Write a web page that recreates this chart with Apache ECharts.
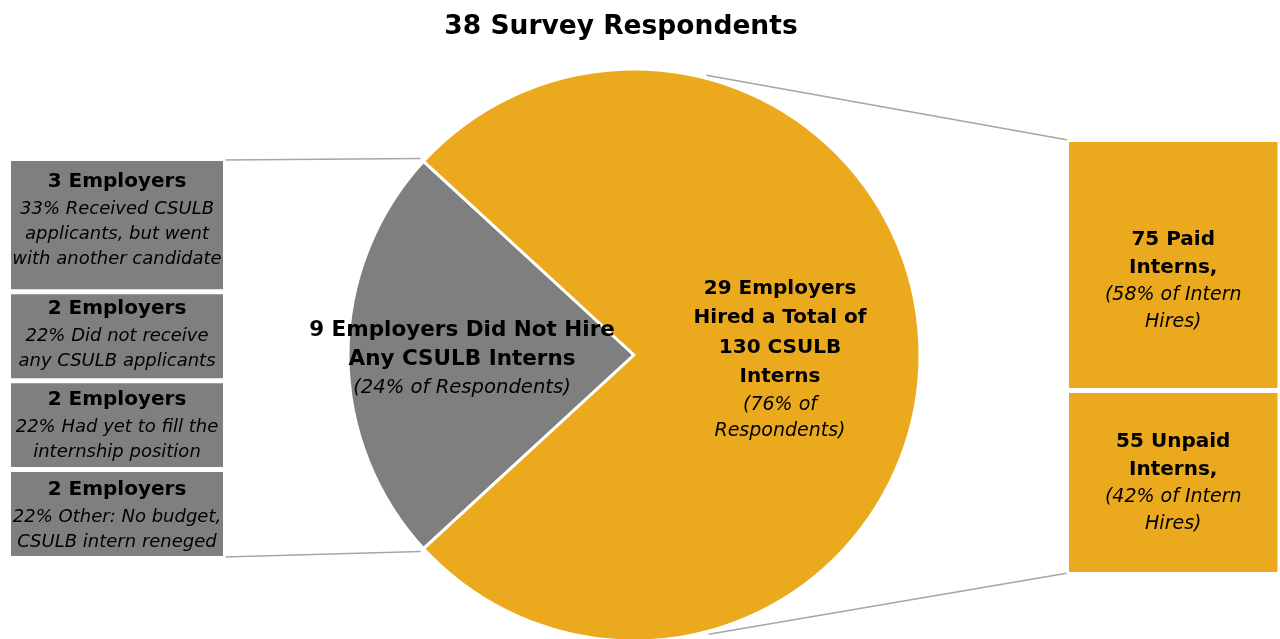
<!DOCTYPE html>
<html><head><meta charset="utf-8">
<script src="https://cdn.jsdelivr.net/npm/echarts@6/dist/echarts.min.js"></script>
<style>html,body{margin:0;padding:0;background:#fff}#c{width:1280px;height:639px}</style>
</head><body><div id="c"></div>
<script>
// ---- data ----
const chartTitle = '38 Survey Respondents';
const pieNames = ['Did Not Hire', 'Hired'];
const pieValues = [9, 29];
const pieTitles = [['9 Employers Did Not Hire', 'Any CSULB Interns'], ['29 Employers', 'Hired a Total of', '130 CSULB', 'Interns']];
const pieNotes = [['(24% of Respondents)'], ['(76% of', 'Respondents)']];

const leftValues = [3, 2, 2, 2];
const leftTitles = ['3 Employers', '2 Employers', '2 Employers', '2 Employers'];
const leftNotes = [
  ['33% Received CSULB', 'applicants, but went', 'with another candidate'],
  ['22% Did not receive', 'any CSULB applicants'],
  ['22% Had yet to fill the', 'internship position'],
  ['22% Other: No budget,', 'CSULB intern reneged']
];

const rightValues = [75, 55];
const rightTitles = [['75 Paid', 'Interns,'], ['55 Unpaid', 'Interns,']];
const rightNotes = [['(58% of Intern', 'Hires)'], ['(42% of Intern', 'Hires)']];

// ---- styles ----
const GOLD = '#EBA91E';
const GRAY = '#7F7F7F';
const FONT = 'DejaVu Sans';
const sum = a => a.reduce((s, v) => s + v, 0);

function richText(titles, notes, suffix) {
  const sfx = suffix || '';
  const t = [].concat(titles).map(s => '{b' + sfx + '|' + s + '}');
  const n = [].concat(notes).map(s => '{i' + sfx + '|' + s + '}');
  return t.concat(n).join('\n');
}

const pieCenter = [634, 355];
const pieRadius = 286;
const grayShare = pieValues[0] / sum(pieValues) * 360;
const startAngle = 180 + grayShare / 2;

const chart = echarts.init(document.getElementById('c'), null, {renderer: 'canvas'});

function barSeries(values, titles, notes, color, gridIdx, rich, offsets) {
  return values.map((v, i) => ({
    type: 'bar',
    name: 's' + gridIdx + '_' + i,
    stack: 'st' + gridIdx,
    xAxisIndex: gridIdx,
    yAxisIndex: gridIdx,
    barWidth: '100%',
    data: [v],
    itemStyle: {color: color, borderColor: '#fff', borderWidth: 2.5},
    label: {
      show: true,
      position: 'inside',
      offset: offsets ? offsets[i] : [0, 0],
      formatter: () => richText(titles[i], notes[i]),
      rich: rich
    },
    silent: true
  }));
}

const leftRich = {
  b: {fontFamily: FONT, fontWeight: 'bold', fontSize: 20, lineHeight: 30, color: '#000'},
  i: {fontFamily: FONT, fontStyle: 'italic', fontSize: 18, lineHeight: 25, color: '#000'}
};
const rightRich = {
  b: {fontFamily: FONT, fontWeight: 'bold', fontSize: 20, lineHeight: 28, color: '#000'},
  i: {fontFamily: FONT, fontStyle: 'italic', fontSize: 19, lineHeight: 27, color: '#000'}
};
const pieRich = {
  b: {fontFamily: FONT, fontWeight: 'bold', fontSize: 20, lineHeight: 29.5, color: '#000'},
  i: {fontFamily: FONT, fontStyle: 'italic', fontSize: 19, lineHeight: 26, color: '#000'},
  bg: {fontFamily: FONT, fontWeight: 'bold', fontSize: 21.5, lineHeight: 29, color: '#000'},
  ig: {fontFamily: FONT, fontStyle: 'italic', fontSize: 19.6, lineHeight: 28, color: '#000'}
};

const option = {
  animation: false,
  backgroundColor: '#fff',
  grid: [
    {left: 8.5, top: 158.5, width: 217, height: 400},
    {left: 1066.5, top: 139.5, width: 220, height: 435}
  ],
  xAxis: [
    {type: 'category', gridIndex: 0, data: ['a'], show: false},
    {type: 'category', gridIndex: 1, data: ['a'], show: false}
  ],
  yAxis: [
    {type: 'value', gridIndex: 0, min: 0, max: sum(leftValues), inverse: true, show: false},
    {type: 'value', gridIndex: 1, min: 0, max: sum(rightValues), inverse: true, show: false}
  ],
  series: [
    {
      type: 'pie',
      center: pieCenter,
      radius: pieRadius,
      startAngle: startAngle,
      clockwise: true,
      silent: true,
      label: {show: true, position: 'inside', rich: pieRich,
        formatter: p => richText(pieTitles[p.dataIndex], pieNotes[p.dataIndex], p.dataIndex === 0 ? 'g' : '')},
      labelLine: {show: false},
      itemStyle: {borderColor: '#fff', borderWidth: 3},
      data: pieValues.map((v, i) => ({
        name: pieNames[i], value: v,
        itemStyle: {color: i === 0 ? GRAY : GOLD},
        label: i === 0 ? {padding: [8, 52, 0, 0]} : {padding: [8, 0, 0, 0]}
      }))
    }
  ].concat(
    barSeries(leftValues, leftTitles, leftNotes, GRAY, 0, leftRich, [[0, -6], [0, -2], [0, 0], [0, 1]]),
    barSeries(rightValues, rightTitles, rightNotes, GOLD, 1, rightRich, [[0, 16], [0, 0]])
  ),
  graphic: [
    {type: 'text', x: 621, y: 27, style: {text: chartTitle, fontFamily: FONT, fontWeight: 'bold', fontSize: 26.5, fill: '#000', align: 'center', verticalAlign: 'middle'}}
  ]
};
chart.setOption(option);

// connector lines computed from the pie geometry and the bar grids
const gL = chart.getModel().getComponent('grid', 0).coordinateSystem.getRect();
const gR = chart.getModel().getComponent('grid', 1).coordinateSystem.getRect();
function onCircle(deg, r) {
  const a = deg * Math.PI / 180;
  return [pieCenter[0] + r * Math.cos(a), pieCenter[1] - r * Math.sin(a)];
}
const lineStyle = {stroke: '#A6A6A6', lineWidth: 1.5};
const topGray = onCircle(startAngle - grayShare, pieRadius + 4);
const botGray = onCircle(startAngle, pieRadius + 4);
const topGold = onCircle(75.5, pieRadius + 3);
const botGold = onCircle(-75, pieRadius + 3);
const lines = [
  [topGray, [gL.x + gL.width - 2, gL.y + 1.5]],
  [botGray, [gL.x + gL.width - 2, gL.y + gL.height - 1.5]],
  [topGold, [gR.x + 1.5, gR.y + 0.5]],
  [botGold, [gR.x + 1.5, gR.y + gR.height - 1.5]]
].map(([p, q]) => ({type: 'line', shape: {x1: p[0], y1: p[1], x2: q[0], y2: q[1]}, style: lineStyle, silent: true}));
chart.setOption({graphic: option.graphic.concat(lines)});
</script>
</body></html>
